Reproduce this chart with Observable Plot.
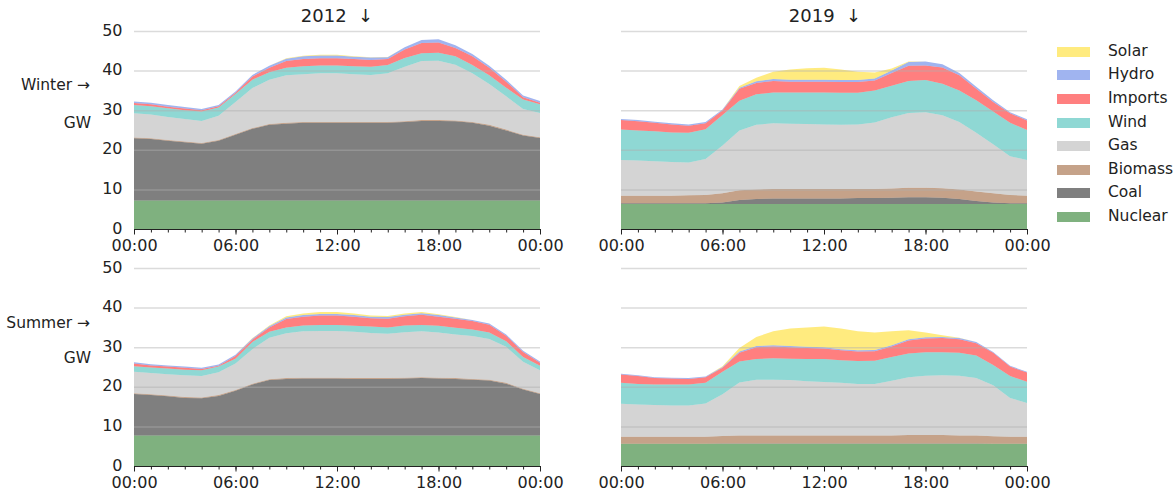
<!DOCTYPE html>
<html>
<head>
<meta charset="utf-8">
<script src="https://cdn.jsdelivr.net/npm/d3@7"></script>
<script src="https://cdn.jsdelivr.net/npm/@observablehq/plot@0.6"></script>
<style>
  body { margin: 0; background: #fff; }
  #chart { position: relative; width: 1176px; height: 495px; overflow: hidden;
           font-family: "DejaVu Sans", sans-serif; color: #222; }
  .panel { position: absolute; }
  .txt { position: absolute; white-space: pre; font-size: 15.5px; line-height: 1; }
  .title { font-size: 18px; transform: translate(-50%, -50%); }
  .row { transform: translate(-100%, -50%); }
  .key { position: absolute; left: 1057px; width: 33px; height: 10px; transform: translateY(-50%); }
  .keylabel { position: absolute; left: 1108px; transform: translateY(-50%); font-size: 15.5px; line-height: 1; }
</style>
</head>
<body>
<div id="chart"></div>
<script>
// Hour of day, 00:00 through the following 00:00
const hours = [0,1,2,3,4,5,6,7,8,9,10,11,12,13,14,15,16,17,18,19,20,21,22,23,24];
const majorTicks = [0, 6, 12, 18, 24];
const yTicks = [0, 10, 20, 30, 40, 50];
const gridLevels = [10, 20, 30, 40, 50];

// Sources, top of the legend first
const sources = ["Solar", "Hydro", "Imports", "Wind", "Gas", "Biomass", "Coal", "Nuclear"];
const sourceColors = ["gold", "royalblue", "red", "lightseagreen", "darkgray", "saddlebrown", "black", "darkgreen"];
// Stacking order, bottom first
const stackOrder = ["Nuclear", "Coal", "Biomass", "Gas", "Wind", "Imports", "Hydro", "Solar"];

const years = ["2012", "2019"];
const seasons = ["Winter", "Summer"];

// Winter 2012 (GW)
const w2012Nuclear = [7.2,7.2,7.2,7.2,7.2,7.2,7.2,7.2,7.2,7.2,7.2,7.2,7.2,7.2,7.2,7.2,7.2,7.2,7.2,7.2,7.2,7.2,7.2,7.2,7.2];
const w2012Coal    = [15.7,15.5,15.1,14.7,14.3,15.1,16.6,18.1,19.1,19.4,19.6,19.6,19.6,19.6,19.6,19.6,19.8,20.1,20.1,20.0,19.6,18.9,17.7,16.4,15.8];
const w2012Biomass = [0.2,0.2,0.2,0.2,0.2,0.2,0.2,0.2,0.2,0.2,0.2,0.2,0.2,0.2,0.2,0.2,0.2,0.2,0.2,0.2,0.2,0.2,0.2,0.2,0.2];
const w2012Gas     = [6.1,6.0,5.8,5.7,5.6,6.1,8.1,10.1,11.2,12.0,12.1,12.3,12.3,12.1,11.9,12.3,13.8,14.9,15.0,14.1,12.3,10.3,8.4,6.5,6.1];
const w2012Wind    = [2.1,2.1,2.2,2.2,2.4,2.1,2.0,2.1,1.9,1.9,2.0,2.0,2.0,2.0,2.1,2.1,2.2,2.0,2.0,2.1,2.1,2.2,2.2,2.4,2.2];
const w2012Imports = [0.5,0.5,0.4,0.4,0.3,0.3,0.3,0.8,1.1,1.7,1.8,1.8,1.8,1.8,1.7,1.5,2.1,2.6,2.6,2.1,2.2,1.9,1.5,0.6,0.4];
const w2012Hydro   = [0.4,0.4,0.4,0.4,0.3,0.3,0.3,0.4,0.5,0.6,0.7,0.7,0.7,0.6,0.6,0.5,0.6,0.7,0.8,0.7,0.6,0.5,0.5,0.4,0.4];
const w2012Solar   = [0,0,0,0,0,0,0,0,0.05,0.1,0.15,0.2,0.2,0.15,0.1,0.05,0,0,0,0,0,0,0,0,0];

// Summer 2012 (GW)
const s2012Nuclear = [7.7,7.7,7.7,7.7,7.7,7.7,7.7,7.7,7.7,7.7,7.7,7.7,7.7,7.7,7.7,7.7,7.7,7.7,7.7,7.7,7.7,7.7,7.7,7.7,7.7];
const s2012Coal    = [10.5,10.2,9.9,9.5,9.4,10.0,11.3,12.9,14.0,14.3,14.4,14.4,14.4,14.3,14.3,14.3,14.4,14.5,14.4,14.3,14.1,13.9,13.1,11.6,10.5];
const s2012Biomass = [0.2,0.2,0.2,0.2,0.2,0.2,0.2,0.2,0.2,0.2,0.2,0.2,0.2,0.2,0.2,0.2,0.2,0.2,0.2,0.2,0.2,0.2,0.2,0.2,0.2];
const s2012Gas     = [5.4,5.4,5.4,5.5,5.4,5.8,6.7,8.7,10.5,11.3,11.7,11.8,11.8,11.7,11.4,11.2,11.5,11.6,11.4,11.0,10.8,10.3,9.1,6.8,5.8];
const s2012Wind    = [1.4,1.4,1.4,1.4,1.5,1.4,1.2,1.8,1.5,1.5,1.5,1.5,1.5,1.5,1.6,1.6,1.7,1.6,1.7,1.7,1.7,1.6,1.4,1.2,1.1];
const s2012Imports = [0.7,0.5,0.5,0.5,0.3,0.2,0.7,0.6,1.1,2.1,2.2,2.4,2.4,2.3,2.1,2.2,2.3,2.6,2.3,2.3,2.1,2.0,1.4,1.3,0.8];
const s2012Hydro   = [0.3,0.3,0.3,0.3,0.3,0.3,0.3,0.3,0.3,0.4,0.4,0.4,0.4,0.4,0.4,0.4,0.4,0.4,0.4,0.3,0.3,0.3,0.3,0.3,0.3];
const s2012Solar   = [0,0,0,0,0,0,0,0.1,0.2,0.3,0.4,0.5,0.5,0.4,0.3,0.3,0.3,0.3,0.2,0.1,0,0,0,0,0];

// Winter 2019 (GW)
const w2019Nuclear = [6.3,6.3,6.3,6.3,6.3,6.3,6.3,6.3,6.3,6.3,6.3,6.3,6.3,6.3,6.3,6.3,6.3,6.3,6.3,6.3,6.3,6.3,6.3,6.3,6.3];
const w2019Coal    = [0.2,0.2,0.2,0.2,0.2,0.2,0.4,1.0,1.3,1.4,1.4,1.4,1.4,1.4,1.5,1.5,1.6,1.7,1.7,1.6,1.3,0.8,0.4,0.2,0.2];
const w2019Biomass = [1.9,1.9,1.9,1.9,2.0,2.1,2.3,2.5,2.4,2.4,2.4,2.4,2.4,2.4,2.3,2.3,2.3,2.4,2.4,2.4,2.4,2.4,2.3,2.1,1.9];
const w2019Gas     = [9.0,8.9,8.7,8.5,8.3,9.1,12.1,15.1,16.3,16.6,16.5,16.4,16.3,16.2,16.3,16.8,18.0,18.9,19.1,18.4,17.0,14.8,12.4,9.8,9.0];
const w2019Wind    = [7.7,7.6,7.6,7.5,7.5,7.5,7.7,7.5,7.7,7.8,7.9,8.0,8.1,8.1,8.0,8.1,8.0,8.1,8.1,8.0,8.0,8.2,8.3,8.4,7.6];
const w2019Imports = [2.4,2.3,2.1,2.0,1.8,1.5,1.1,3.0,2.9,2.9,2.7,2.7,2.7,2.7,2.7,2.5,3.2,3.8,3.7,4.1,3.8,2.9,2.4,2.4,2.4];
const w2019Hydro   = [0.3,0.3,0.3,0.3,0.3,0.3,0.3,0.3,0.4,0.5,0.5,0.5,0.5,0.5,0.5,0.5,0.6,1.0,1.0,0.8,0.6,0.5,0.4,0.3,0.3];
const w2019Solar   = [0,0,0,0,0,0,0,0.4,0.9,1.8,2.6,2.9,3.0,2.7,2.1,1.5,0.5,0.1,0,0,0,0,0,0,0];

// Summer 2019 (GW)
const s2019Nuclear = [5.6,5.6,5.6,5.6,5.6,5.6,5.6,5.6,5.6,5.6,5.6,5.6,5.6,5.6,5.6,5.6,5.6,5.6,5.6,5.6,5.6,5.6,5.6,5.6,5.6];
const s2019Coal    = [0,0,0,0,0,0,0.1,0.1,0.1,0.1,0.1,0.1,0.1,0.1,0.1,0.1,0.1,0.1,0.1,0.1,0.1,0.1,0,0,0];
const s2019Biomass = [1.8,1.8,1.8,1.8,1.8,1.8,1.9,2.0,2.0,2.0,2.0,2.0,2.0,2.0,2.0,2.0,2.0,2.1,2.1,2.1,2.0,2.0,1.9,1.8,1.8];
const s2019Gas     = [8.3,8.1,8.0,7.9,7.9,8.4,10.5,13.4,14.1,14.1,14.0,13.7,13.5,13.3,13.0,13.0,13.8,14.6,15.0,15.1,15.1,14.5,12.9,9.8,8.5];
const s2019Wind    = [5.3,5.2,5.2,5.3,5.3,5.2,5.7,5.3,5.2,5.4,5.4,5.6,5.8,5.7,5.8,5.9,6.0,6.0,5.9,5.8,5.8,5.7,5.1,5.5,5.4];
const s2019Imports = [2.1,2.0,1.6,1.5,1.4,1.4,1.0,2.2,3.0,3.0,2.9,2.8,2.7,2.5,2.4,2.4,2.7,3.3,3.5,3.6,3.4,3.1,3.1,2.4,2.3];
const s2019Hydro   = [0.2,0.2,0.2,0.2,0.2,0.2,0.2,0.3,0.3,0.3,0.3,0.3,0.3,0.3,0.3,0.3,0.3,0.3,0.3,0.3,0.3,0.3,0.2,0.2,0.2];
const s2019Solar   = [0,0,0,0,0,0,0.2,0.9,2.3,3.5,4.4,4.9,5.2,5.2,4.8,4.4,3.5,2.3,1.2,0.4,0.1,0,0,0,0];

const panels = [
  {season: "Winter", year: "2012", series: {Nuclear: w2012Nuclear, Coal: w2012Coal, Biomass: w2012Biomass, Gas: w2012Gas, Wind: w2012Wind, Imports: w2012Imports, Hydro: w2012Hydro, Solar: w2012Solar}},
  {season: "Winter", year: "2019", series: {Nuclear: w2019Nuclear, Coal: w2019Coal, Biomass: w2019Biomass, Gas: w2019Gas, Wind: w2019Wind, Imports: w2019Imports, Hydro: w2019Hydro, Solar: w2019Solar}},
  {season: "Summer", year: "2012", series: {Nuclear: s2012Nuclear, Coal: s2012Coal, Biomass: s2012Biomass, Gas: s2012Gas, Wind: s2012Wind, Imports: s2012Imports, Hydro: s2012Hydro, Solar: s2012Solar}},
  {season: "Summer", year: "2019", series: {Nuclear: s2019Nuclear, Coal: s2019Coal, Biomass: s2019Biomass, Gas: s2019Gas, Wind: s2019Wind, Imports: s2019Imports, Hydro: s2019Hydro, Solar: s2019Solar}}
];

const hourLabel = h => String(h % 24).padStart(2, "0") + ":00";

const chart = document.getElementById("chart");

function addText(cls, text, left, top) {
  const el = document.createElement("div");
  el.className = "txt " + cls;
  el.textContent = text;
  el.style.left = left + "px";
  el.style.top = top + "px";
  chart.appendChild(el);
}

function drawPanel(panel) {
  const col = years.indexOf(panel.year);
  const row = seasons.indexOf(panel.season);
  const rows = stackOrder.flatMap(source =>
    hours.map((h, i) => ({hour: h, source, gw: panel.series[source][i]}))
  );
  const marginLeft = col === 0 ? 134 : 21;
  const width = marginLeft + 406 + 20;
  const marks = [
    Plot.areaY(rows, {x: "hour", y: "gw", fill: "source", order: stackOrder, fillOpacity: 0.5}),
    Plot.ruleY(gridLevels, {stroke: "#b0b0b0", strokeOpacity: 0.45, strokeWidth: 1.5}),
    Plot.ruleY([0], {stroke: "#222", strokeWidth: 1.2}),
    Plot.axisX(hours, {tickSize: 3.5, tickFormat: () => "", label: null, stroke: "#222"}),
    Plot.axisX(majorTicks, {tickSize: 5.5, tickPadding: 4.5, tickFormat: hourLabel, label: null, fontSize: 16, stroke: "#222", fill: "#222"})
  ];
  if (col === 0) {
    marks.push(Plot.axisY(yTicks, {tickSize: 0, tickPadding: 12, label: null, fontSize: 16, fill: "#222", dy: -1}));
  }
  const svg = Plot.plot({
    width,
    height: 259,
    marginLeft,
    marginRight: 20,
    marginTop: row === 0 ? 31 : 30,
    marginBottom: row === 0 ? 30 : 31,
    style: {fontFamily: "DejaVu Sans, sans-serif", fontSize: "16px", background: "transparent", overflow: "visible"},
    x: {domain: [0, 24]},
    y: {domain: [0, 50], axis: col === 0 ? undefined : null},
    color: {domain: sources, range: sourceColors},
    marks
  });
  const wrap = document.createElement("div");
  wrap.className = "panel";
  wrap.style.left = (col === 0 ? 0 : 600) + "px";
  wrap.style.top = (row === 0 ? 0 : 238) + "px";
  wrap.appendChild(svg);
  chart.appendChild(wrap);
}

panels.forEach(drawPanel);

// Column titles
addText("title", "2012  ↓", 337, 16);
addText("title", "2019  ↓", 825, 16);

// Row labels
addText("row", "Winter →", 90, 86);
addText("row", "GW", 91, 124);
addText("row", "Summer →", 90, 324);
addText("row", "GW", 91, 359);

// Legend
sources.forEach((s, i) => {
  const y = 51.7 + 23.6 * i;
  const key = document.createElement("div");
  key.className = "key";
  key.style.top = y + "px";
  key.style.background = sourceColors[i];
  key.style.opacity = 0.5;
  chart.appendChild(key);
  const lab = document.createElement("div");
  lab.className = "keylabel";
  lab.style.top = y + "px";
  lab.textContent = s;
  chart.appendChild(lab);
});
</script>
</body>
</html>
